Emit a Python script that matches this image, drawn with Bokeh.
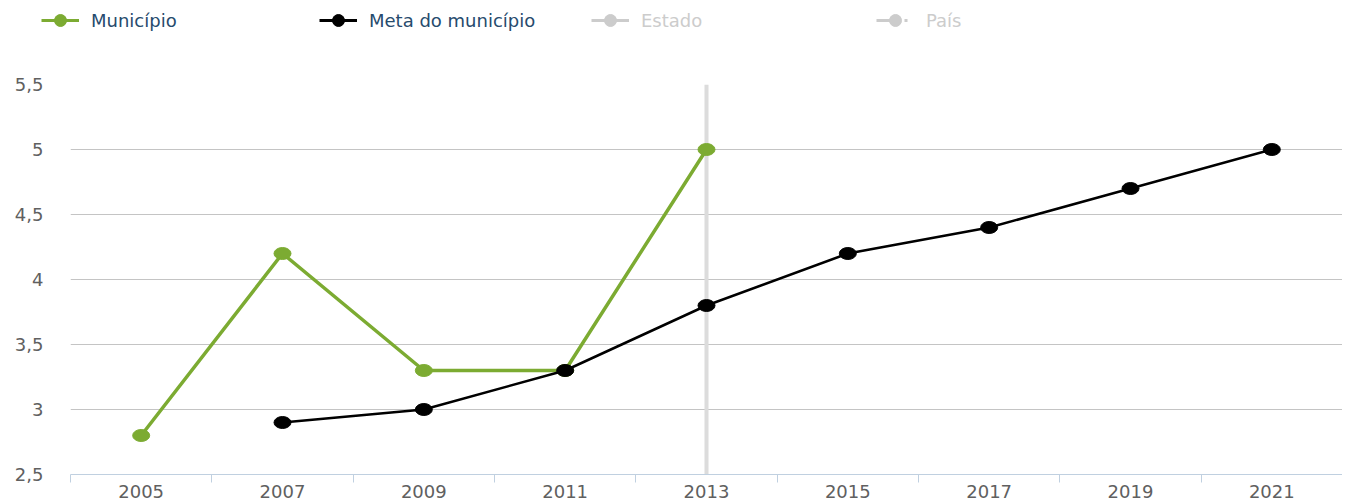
from bokeh.plotting import figure
from bokeh.layouts import column, row
from bokeh.models import (Legend, LegendItem, Span, FixedTicker, CustomJSTickFormatter, Range1d)
from bokeh.embed import file_html
from bokeh.resources import INLINE

categories = ["2005", "2007", "2009", "2011", "2013", "2015", "2017", "2019", "2021"]
mun_years = [2005, 2007, 2009, 2011, 2013]
mun_values = [2.8, 4.2, 3.3, 3.3, 5.0]
meta_years = [2007, 2009, 2011, 2013, 2015, 2017, 2019, 2021]
meta_values = [2.9, 3.0, 3.3, 3.8, 4.2, 4.4, 4.7, 5.0]
y_ticks = [2.5, 3, 3.5, 4, 4.5, 5, 5.5]
highlight_year = 2013

GREEN = "#7cab32"
BLACK = "#000000"
HIDDEN = "#cccccc"
LEG_TXT = "#274b6d"
LABEL = "#606060"
FONT = "DejaVu Sans"
FS = "18px"

TOTAL_W = 1342
LEG_H = 40
NAN = float("nan")
MW, MH = 17, 12  # marker ellipse size (screen px)

cat_years = [int(c) for c in categories]
boundaries = [y - 1 for y in cat_years] + [cat_years[-1] + 1]

p = figure(frame_width=TOTAL_W - 70, frame_height=390, output_backend="svg", toolbar_location=None,
           x_range=Range1d(boundaries[0], boundaries[-1]), y_range=Range1d(y_ticks[0], y_ticks[-1]),
           min_border_left=70, min_border_right=0, min_border_top=84 - LEG_H, min_border_bottom=0)
p.outline_line_color = None
p.background_fill_color = "white"
p.border_fill_color = "white"
p.xgrid.visible = False
p.ygrid.grid_line_color = "#c4c4c4"
p.ygrid.grid_line_width = 1

# y axis
p.yaxis.ticker = FixedTicker(ticks=y_ticks)
p.yaxis.formatter = CustomJSTickFormatter(code="return tick.toString().replace('.', ',');")
p.yaxis.axis_line_color = None
p.yaxis.major_tick_line_color = None
p.yaxis.minor_tick_line_color = None
p.yaxis.major_label_standoff = 21
p.yaxis.major_label_text_font = FONT
p.yaxis.major_label_text_font_size = FS
p.yaxis.major_label_text_color = LABEL

# x axis
p.xaxis.ticker = FixedTicker(ticks=cat_years, minor_ticks=boundaries)
p.xaxis.major_label_overrides = {y: c for y, c in zip(cat_years, categories)}
p.xaxis.major_tick_line_color = None
p.xaxis.major_tick_out = 0
p.xaxis.major_tick_in = 0
p.xaxis.minor_tick_line_color = "#c0d0e0"
p.xaxis.minor_tick_out = 8
p.xaxis.minor_tick_in = 0
p.xaxis.minor_tick_line_width = 1
p.xaxis.axis_line_color = "#c0d0e0"
p.xaxis.major_label_standoff = 2
p.xaxis.major_label_text_font = FONT
p.xaxis.major_label_text_font_size = FS
p.xaxis.major_label_text_color = LABEL

# vertical plot line
p.add_layout(Span(location=highlight_year, dimension="height", line_color="#dcdcdc", line_width=4, level="underlay"))

# series
p.line(mun_years, mun_values, line_color=GREEN, line_width=3.5)
p.ellipse(mun_years, mun_values, width=MW, height=MH, width_units="screen", height_units="screen",
          fill_color=GREEN, line_color=GREEN)
p.line(meta_years, meta_values, line_color=BLACK, line_width=2.5)
p.ellipse(meta_years, meta_values, width=MW, height=MH, width_units="screen", height_units="screen",
          fill_color=BLACK, line_color=BLACK)

# legend strip above the plot
lg = figure(width=TOTAL_W, height=LEG_H, output_backend="svg", toolbar_location=None,
            x_range=Range1d(0, 1), y_range=Range1d(0, 1),
            min_border_left=0, min_border_right=0, min_border_top=0, min_border_bottom=0)
lg.axis.visible = False
lg.grid.visible = False
lg.outline_line_color = None

entries = [
    ("Município", GREEN, LEG_TXT, None, 41),
    ("Meta do município", BLACK, LEG_TXT, None, 319),
    ("Estado", HIDDEN, HIDDEN, None, 591),
    ("País", HIDDEN, HIDDEN, "14 14 3 20", 876),
]
for label, color, txt, dash, x in entries:
    kw = {"line_dash": dash} if dash else {}
    l = lg.line([NAN], [NAN], line_color=color, line_width=3, **kw)
    s = lg.scatter([NAN], [NAN], size=12, fill_color=color, line_color=color)
    leg = Legend(items=[LegendItem(label=label, renderers=[l, s])], location=(x, 5),
                 orientation="horizontal", padding=0, margin=0, spacing=0,
                 border_line_color=None, background_fill_alpha=0,
                 glyph_width=38, glyph_height=30, label_height=30, label_standoff=12,
                 label_text_color=txt, label_text_font=FONT, label_text_font_size=FS)
    lg.add_layout(leg, "center")

layout = column(row(lg), p, spacing=0)
open("out.html", "w").write(file_html(layout, INLINE))
